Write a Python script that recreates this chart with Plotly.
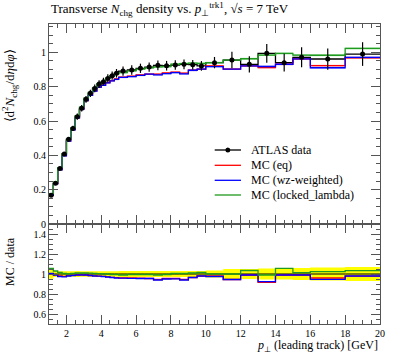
import plotly.graph_objects as go

# ---------------- data ----------------
edges = [1.0, 1.25, 1.5, 1.75, 2.0, 2.25, 2.5, 2.75, 3.0, 3.25, 3.5, 3.75, 4.0, 4.25, 4.5, 4.75, 5.0,
         5.5, 6.0, 6.5, 7.0, 7.5, 8.0, 8.5, 9.0, 9.5, 10.0,
         11.0, 12.0, 13.0, 14.0, 15.0, 16.0, 18.0, 20.0]

data_vals = [0.167, 0.237, 0.324, 0.408, 0.493, 0.557, 0.625, 0.674, 0.726, 0.761, 0.790, 0.815,
             0.829, 0.848, 0.864, 0.878,
             0.891, 0.897, 0.907, 0.914, 0.924, 0.922, 0.926, 0.930, 0.928, 0.921,
             0.940, 0.955, 0.930, 0.994, 0.940, 0.971, 0.961, 0.990]
data_err = [0.008, 0.007, 0.009, 0.011, 0.014, 0.016, 0.018, 0.019, 0.020, 0.021, 0.022, 0.023,
            0.023, 0.024, 0.024, 0.025,
            0.027, 0.027, 0.027, 0.027, 0.028, 0.028, 0.028, 0.028, 0.028, 0.028,
            0.033, 0.048, 0.047, 0.055, 0.052, 0.058, 0.062, 0.069]

mc_eq = [0.1675, 0.2351, 0.3175, 0.3982, 0.4846, 0.5503, 0.6188, 0.6686, 0.7187, 0.7496, 0.7758, 0.7971,
         0.8099, 0.8243, 0.8355, 0.8455,
         0.8554, 0.8611, 0.8689, 0.8729, 0.8732, 0.8805, 0.8843, 0.8789, 0.8955, 0.9026,
         0.9212, 0.9025, 0.9207, 0.9115, 0.9306, 0.9613, 0.9226, 0.9682]
mc_wz = [0.1682, 0.2346, 0.3159, 0.3966, 0.4831, 0.5486, 0.6188, 0.6673, 0.7187, 0.7496, 0.7742, 0.7971,
         0.8083, 0.8226, 0.8338, 0.8429,
         0.8536, 0.8584, 0.8662, 0.8729, 0.8686, 0.8759, 0.8816, 0.8742, 0.8955, 0.9026,
         0.9165, 0.9025, 0.9207, 0.9175, 0.9306, 0.9613, 0.9101, 0.9702]
mc_ll = [0.1765, 0.2441, 0.3289, 0.4100, 0.4930, 0.5598, 0.6313, 0.6807, 0.7333, 0.7671, 0.7940, 0.8174,
         0.8290, 0.8480, 0.8597, 0.8736,
         0.8821, 0.8925, 0.9025, 0.9094, 0.9148, 0.9174, 0.9306, 0.9347, 0.9373, 0.9348,
         0.9400, 0.9550, 0.9626, 0.9841, 0.9936, 0.9836, 0.9831, 1.0227]
mc_rel_err = 0.006

series = [
    ("MC (eq)", mc_eq, "#ff0000", "rgba(255,130,130,0.55)"),
    ("MC (wz-weighted)", mc_wz, "#0000ff", "rgba(130,130,255,0.55)"),
    ("MC (locked_lambda)", mc_ll, "#1e9a1e", "rgba(120,210,120,0.6)"),
]
legend_labels = ["ATLAS data", "MC (eq)", "MC (wz-weighted)", "MC (locked_lambda)"]

FONT = "Liberation Serif"

# ---------------- helpers ----------------
def step(vals):
    return list(edges), list(vals) + [vals[-1]]

centers = [(edges[i] + edges[i + 1]) / 2 for i in range(len(data_vals))]

fig = go.Figure()

# ---- main panel: MC bands
for name, vals, col, band in series:
    ex, ylo = step([v * (1 - mc_rel_err) for v in vals])
    _, yhi = step([v * (1 + mc_rel_err) for v in vals])
    fig.add_trace(go.Scatter(x=ex, y=ylo, mode="lines", line=dict(width=0, shape="hv"),
                             showlegend=False, hoverinfo="skip", xaxis="x", yaxis="y"))
    fig.add_trace(go.Scatter(x=ex, y=yhi, mode="lines", line=dict(width=0, shape="hv"),
                             fill="tonexty", fillcolor=band, showlegend=False, hoverinfo="skip",
                             xaxis="x", yaxis="y"))

# data step line
ex, ey = step(data_vals)
fig.add_trace(go.Scatter(x=ex, y=ey, mode="lines", line=dict(color="black", width=1.3, shape="hv"),
                         showlegend=False, xaxis="x", yaxis="y"))

for name, vals, col, band in series:
    ex, ey = step(vals)
    fig.add_trace(go.Scatter(x=ex, y=ey, mode="lines", line=dict(color=col, width=1.3, shape="hv"),
                             showlegend=False, xaxis="x", yaxis="y"))

# data points with error bars
fig.add_trace(go.Scatter(x=centers, y=data_vals, mode="markers",
                         marker=dict(color="black", size=5),
                         error_y=dict(type="data", array=data_err, color="black", thickness=1.2, width=0),
                         showlegend=False, xaxis="x", yaxis="y"))

# ---- ratio panel
ex, rlo = step([1 - e / d for d, e in zip(data_vals, data_err)])
_, rhi = step([1 + e / d for d, e in zip(data_vals, data_err)])
fig.add_trace(go.Scatter(x=ex, y=rlo, mode="lines", line=dict(width=0, shape="hv"),
                         showlegend=False, hoverinfo="skip", xaxis="x2", yaxis="y2"))
fig.add_trace(go.Scatter(x=ex, y=rhi, mode="lines", line=dict(width=0, shape="hv"),
                         fill="tonexty", fillcolor="#ffff00", showlegend=False, hoverinfo="skip",
                         xaxis="x2", yaxis="y2"))
ex, one = step([d / d for d in data_vals])
fig.add_trace(go.Scatter(x=ex, y=one, mode="lines", line=dict(color="black", width=1, shape="hv"),
                         showlegend=False, xaxis="x2", yaxis="y2"))
for name, vals, col, band in series:
    ex, ry = step([m / d for m, d in zip(vals, data_vals)])
    fig.add_trace(go.Scatter(x=ex, y=ry, mode="lines", line=dict(color=col, width=1.3, shape="hv"),
                             showlegend=False, xaxis="x2", yaxis="y2"))

# ---- manual legend (paper coordinates)
leg_x0, leg_x1, leg_tx = 0.5006, 0.58, 0.603
leg_rows = [0.58, 0.529, 0.479, 0.43]
leg_cols = ["black"] + [s[2] for s in series]
shapes = []
annotations = []
for lab, col, yy in zip(legend_labels, leg_cols, leg_rows):
    shapes.append(dict(type="line", xref="paper", yref="paper", x0=leg_x0, x1=leg_x1, y0=yy, y1=yy,
                       line=dict(color=col, width=1.3)))
    annotations.append(dict(text=lab, xref="paper", yref="paper", x=leg_tx, y=yy, xanchor="left",
                            yanchor="middle", showarrow=False, font=dict(family=FONT, size=12)))
# legend marker for data entry
mx = (leg_x0 + leg_x1) / 2
shapes.append(dict(type="circle", xref="paper", yref="paper",
                   x0=mx - 2.5 / 335, x1=mx + 2.5 / 335,
                   y0=leg_rows[0] - 2.5 / 300, y1=leg_rows[0] + 2.5 / 300,
                   fillcolor="black", line=dict(color="black", width=0)))

axis_col = "#555555"
tickfont = dict(family=FONT, size=10, color="black")
common = dict(showline=True, linecolor=axis_col, linewidth=1, mirror="allticks", ticks="inside",
              tickcolor=axis_col, showgrid=False, zeroline=False, tickfont=tickfont)

annotations += [
    dict(text="Transverse <i>N</i><sub>chg</sub> density vs. <i>p</i><sub>⊥</sub><sup>trk1</sup>, √<i>s</i> = 7 TeV",
         xref="paper", yref="paper", x=0, y=1.015, xanchor="left", yanchor="bottom",
         showarrow=False, font=dict(family=FONT, size=13)),
    dict(text="⟨d<sup>2</sup><i>N</i><sub>chg</sub>/d<i>η</i>d<i>φ</i>⟩",
         xref="paper", yref="paper", x=-0.118, y=0.795, xanchor="center", yanchor="middle",
         textangle=-90, showarrow=False, font=dict(family=FONT, size=13)),
    dict(text="MC / data", xref="paper", yref="paper", x=-0.118, y=0.21,
         xanchor="center", yanchor="middle", textangle=-90, showarrow=False,
         font=dict(family=FONT, size=12)),
    dict(text="<i>p</i><sub>⊥</sub> (leading track) [GeV]", xref="paper", yref="paper",
         x=1, y=-0.108, xanchor="right", yanchor="bottom", showarrow=False,
         font=dict(family=FONT, size=12)),
]

fig.update_layout(
    width=397, height=358,
    margin=dict(l=49, r=13, t=24, b=34),
    paper_bgcolor="white", plot_bgcolor="white",
    font=dict(family=FONT, size=11, color="black"),
    showlegend=False,
    xaxis=dict(domain=[0, 1], range=[1, 20], anchor="y", showticklabels=False,
               dtick=2, ticklen=9, minor=dict(dtick=0.5, ticklen=4, ticks="inside", tickcolor=axis_col),
               **common),
    yaxis=dict(domain=[1 / 3, 1], range=[0, 1.165], anchor="x",
               tickvals=[0, 0.2, 0.4, 0.6, 0.8, 1.0], ticktext=["0", "0.2", "0.4", "0.6", "0.8", "1"],
               ticklen=9, minor=dict(dtick=0.05, ticklen=4, ticks="inside", tickcolor=axis_col),
               **common),
    xaxis2=dict(domain=[0, 1], range=[1, 20], anchor="y2", dtick=2, ticklen=9,
                minor=dict(dtick=0.5, ticklen=4, ticks="inside", tickcolor=axis_col), **common),
    yaxis2=dict(domain=[0, 1 / 3], range=[0.5, 1.5], anchor="x2",
                tickvals=[0.6, 0.8, 1.0, 1.2, 1.4], ticktext=["0.6", "0.8", "1", "1.2", "1.4"],
                ticklen=9, minor=dict(dtick=0.05, ticklen=4, ticks="inside", tickcolor=axis_col),
                **common),
    shapes=shapes,
    annotations=annotations,
)

fig.write_html("out.html", config={"displayModeBar": False},
               post_script="document.body.style.margin='0px';")
